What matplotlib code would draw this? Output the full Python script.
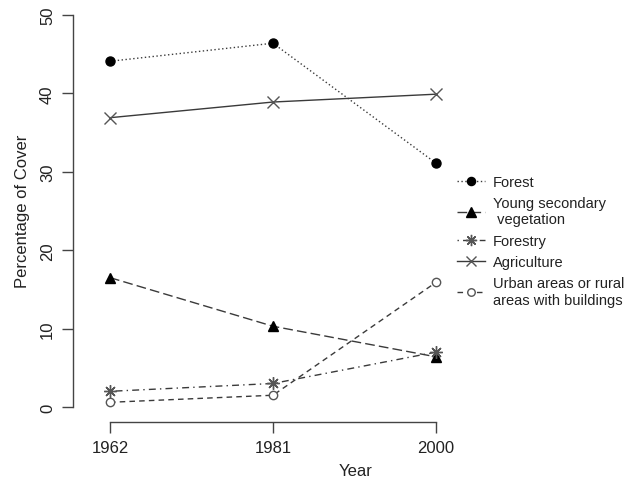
import matplotlib
matplotlib.use('Agg')
import matplotlib.pyplot as plt
from matplotlib.lines import Line2D

plt.rcParams['font.family'] = ['Liberation Sans', 'DejaVu Sans']

years = [1962, 1981, 2000]
forest = [44.1, 46.4, 31.1]
young_secondary = [16.5, 10.3, 6.4]
forestry = [2.0, 3.0, 7.0]
agriculture = [36.9, 38.9, 39.9]
urban = [0.6, 1.5, 15.9]

labels = ['Forest', 'Young secondary\n vegetation', 'Forestry', 'Agriculture',
          'Urban areas or rural\nareas with buildings']

line_col = '#3a3a3a'
grey = '#555555'

# (values, dashes, marker, marker size, face, edge)
series = [
    (forest, (1, 1.8), 'o', 6.5, 'black', 'black'),
    (young_secondary, (7, 3), '^', 7.5, 'black', 'black'),
    (forestry, (1, 3, 5, 3), (8, 2, 0), 9, grey, grey),
    (agriculture, None, 'x', 8, grey, grey),
    (urban, (4, 3), 'o', 6, 'white', grey),
]

W, H = 639, 481
fig = plt.figure(figsize=(W / 100, H / 100), dpi=100)
# plot region in pixels (R style: axes drawn at region edge)
left, right, bottom, top = 73, 639, 423, 0
ax = fig.add_axes([left / W, 1 - bottom / H, (right - left) / W, (bottom - top) / H])

px_year = (273 - 110) / 19.0
x0 = 1962 - (110 - left) / px_year
x1 = 1962 + (right - 110) / px_year
ax.set_xlim(x0, x1)
px_unit = (408 - 16) / 50.0
ax.set_ylim(-(bottom - 408) / px_unit, (408 - top) / px_unit)

handles = []
for vals, dashes, mk, ms, fc, ec in series:
    ln, = ax.plot(years, vals, color=line_col, lw=1.0, linestyle='-',
                  marker=mk, markersize=ms, markerfacecolor=fc,
                  markeredgecolor=ec, markeredgewidth=1.0, clip_on=False)
    if dashes is not None:
        ln.set_dashes(dashes)
    h = Line2D([], [], color=line_col, lw=1.0, marker=mk, markersize=ms * 0.9,
               markerfacecolor=fc, markeredgecolor=ec, markeredgewidth=1.0)
    if dashes is not None:
        h.set_dashes(dashes)
    handles.append(h)

for s in ['top', 'right']:
    ax.spines[s].set_visible(False)
ax.spines['left'].set_bounds(0, 50)
ax.spines['bottom'].set_bounds(1962, 2000)
for s in ['left', 'bottom']:
    ax.spines[s].set_color('#444444')
    ax.spines[s].set_linewidth(1.0)

ax.set_xticks(years)
ax.set_yticks([0, 10, 20, 30, 40, 50])
ax.tick_params(axis='both', length=8, width=1.0, color='#444444', labelsize=12,
               labelcolor='#222222', pad=5)
for t in ax.get_yticklabels():
    t.set_rotation(90)
    t.set_va('center')

ax.set_xlabel('Year', fontsize=12, color='#222222', labelpad=6)
ax.set_ylabel('Percentage of Cover', fontsize=12, color='#222222', labelpad=7)

leg = ax.legend(handles, labels, loc='upper left',
                bbox_to_anchor=(457 / W, 1 - 176 / H), bbox_transform=fig.transFigure,
                frameon=False, fontsize=10.5, handlelength=1.9, handletextpad=0.55,
                labelspacing=0.5, borderpad=0, borderaxespad=0)
for t in leg.get_texts():
    t.set_color('#222222')

fig.savefig('out.png', dpi=100)
